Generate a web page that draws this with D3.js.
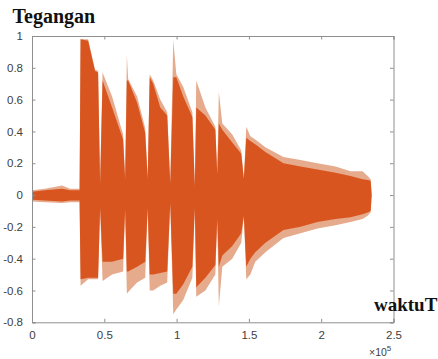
<!DOCTYPE html>
<html>
<head>
<meta charset="utf-8">
<script src="https://cdn.jsdelivr.net/npm/d3@7"></script>
<style>
  html, body { margin: 0; padding: 0; background: #fff; overflow: hidden; }
  #chart { width: 438px; height: 359px; }
</style>
</head>
<body>
<div id="chart"></div>
<script>
const sampleIdx = [0, 9000, 20800, 26300, 32900, 33600, 38800, 43600, 45700, 47100,
  48800, 55400, 63000, 64400, 65600, 66500, 72700, 78300, 80000, 81400,
  83800, 88700, 93500, 95600, 97700, 99800, 104600, 110900, 112600, 113600,
  119900, 126800, 128100, 129200, 131600, 138500, 144700, 146500, 148200, 151000,
  154400, 161400, 173900, 185700, 197400, 209900, 220300, 228600, 232100, 234200, 234900];
const upperOuter = [0.03, 0.04, 0.06, 0.04, 0.04, 0.98, 0.98, 0.79, 0.78, 0.08,
  0.77, 0.62, 0.38, 0.11, 0.88, 0.73, 0.62, 0.42, 0.11, 0.76,
  0.72, 0.60, 0.52, 0.08, 0.975, 0.76, 0.68, 0.52, 0.06, 0.72,
  0.55, 0.43, 0.14, 0.65, 0.45, 0.38, 0.28, 0.11, 0.43, 0.37,
  0.35, 0.30, 0.24, 0.22, 0.20, 0.18, 0.15, 0.15, 0.12, 0.10, 0.0];
const upperInner = [0.02, 0.03, 0.04, 0.03, 0.03, 0.98, 0.97, 0.78, 0.77, 0.07,
  0.72, 0.55, 0.35, 0.10, 0.72, 0.72, 0.58, 0.39, 0.10, 0.74,
  0.70, 0.55, 0.50, 0.07, 0.74, 0.74, 0.62, 0.49, 0.05, 0.55,
  0.50, 0.41, 0.13, 0.45, 0.41, 0.33, 0.26, 0.10, 0.36, 0.34,
  0.32, 0.27, 0.20, 0.18, 0.16, 0.14, 0.12, 0.10, 0.095, 0.09, 0.0];
const lowerInner = [-0.03, -0.035, -0.04, -0.035, -0.035, -0.53, -0.52, -0.52, -0.52, -0.08,
  -0.42, -0.42, -0.40, -0.09, -0.48, -0.48, -0.45, -0.42, -0.08, -0.50,
  -0.50, -0.49, -0.48, -0.05, -0.62, -0.62, -0.56, -0.45, -0.08, -0.58,
  -0.52, -0.44, -0.15, -0.45, -0.38, -0.32, -0.24, -0.13, -0.45, -0.40,
  -0.36, -0.30, -0.22, -0.20, -0.17, -0.15, -0.14, -0.12, -0.11, -0.10, 0.0];
const lowerOuter = [-0.04, -0.045, -0.05, -0.045, -0.045, -0.57, -0.53, -0.53, -0.53, -0.09,
  -0.54, -0.50, -0.48, -0.10, -0.62, -0.61, -0.55, -0.52, -0.09, -0.60,
  -0.60, -0.57, -0.55, -0.06, -0.75, -0.72, -0.66, -0.52, -0.09, -0.64,
  -0.60, -0.50, -0.16, -0.70, -0.45, -0.40, -0.30, -0.14, -0.53, -0.50,
  -0.42, -0.36, -0.27, -0.24, -0.21, -0.19, -0.17, -0.15, -0.13, -0.11, 0.0];

const xTicks = [0, 50000, 100000, 150000, 200000, 250000];
const xTickLabels = ["0", "0.5", "1", "1.5", "2", "2.5"];
const yTicks = [1, 0.8, 0.6, 0.4, 0.2, 0, -0.2, -0.4, -0.6, -0.8];
const yTickLabels = ["1", "0.8", "0.6", "0.4", "0.2", "0", "-0.2", "-0.4", "-0.6", "-0.8"];

const W = 438, H = 359;
const m = { left: 32, top: 36, right: 44.5, bottom: 36.7 };
const iw = W - m.left - m.right, ih = H - m.top - m.bottom;

const svg = d3.select("#chart").append("svg")
  .attr("width", W).attr("height", H)
  .style("font-family", "'Liberation Sans', Arial, sans-serif");

const x = d3.scaleLinear().domain([0, 250000]).range([0, iw]);
const y = d3.scaleLinear().domain([-0.8, 1]).range([ih, 0]);

const g = svg.append("g").attr("transform", `translate(${m.left},${m.top})`);

const pts = sampleIdx.map((t, i) => ({ t, uo: upperOuter[i], ui: upperInner[i], li: lowerInner[i], lo: lowerOuter[i] }));

// lighter fringe of the peaks, then the dense body
g.append("path").datum(pts)
  .attr("fill", "#e6aa8c")
  .attr("d", d3.area().x(d => x(d.t)).y0(d => y(d.lo)).y1(d => y(d.uo)));
g.append("path").datum(pts)
  .attr("fill", "#d9551f")
  .attr("d", d3.area().x(d => x(d.t)).y0(d => y(d.li)).y1(d => y(d.ui)));

// axes, MATLAB style: box with inward ticks
const lineColor = "#8f8f8f";
const tickLen = 3.5;

const axBottom = g.append("g").attr("transform", `translate(0,${ih})`)
  .call(d3.axisBottom(x).tickValues(xTicks).tickSize(-tickLen).tickPadding(9)
    .tickFormat((d, i) => xTickLabels[i]));
const axTop = g.append("g")
  .call(d3.axisTop(x).tickValues(xTicks).tickSize(-tickLen).tickFormat(""));
const axLeft = g.append("g")
  .call(d3.axisLeft(y).tickValues(yTicks).tickSize(-tickLen).tickPadding(9)
    .tickFormat((d, i) => yTickLabels[i]));
const axRight = g.append("g").attr("transform", `translate(${iw},0)`)
  .call(d3.axisRight(y).tickValues(yTicks).tickSize(-tickLen).tickFormat(""));

[axBottom, axTop, axLeft, axRight].forEach(a => {
  a.select(".domain").attr("stroke", lineColor).attr("stroke-width", 1);
  a.selectAll(".tick line").attr("stroke", lineColor);
  a.selectAll("text").attr("fill", "#404040").style("font-size", "11.5px");
});

// exponent label
const expo = svg.append("text").attr("x", 369).attr("y", 356)
  .attr("fill", "#404040").style("font-size", "10.5px");
expo.append("tspan").text("\u00d710");
expo.append("tspan").attr("dy", -5).style("font-size", "8px").text("5");

// axis titles
svg.append("text").attr("x", 12.5).attr("y", 23)
  .style("font-family", "'Liberation Serif', 'Times New Roman', serif")
  .style("font-weight", "bold").style("font-size", "20px")
  .attr("fill", "#111").text("Tegangan");
svg.append("text").attr("x", 374).attr("y", 310.5)
  .style("font-family", "'Liberation Serif', 'Times New Roman', serif")
  .style("font-weight", "bold").style("font-size", "19px")
  .attr("fill", "#111").text("waktuT");
</script>
</body>
</html>
